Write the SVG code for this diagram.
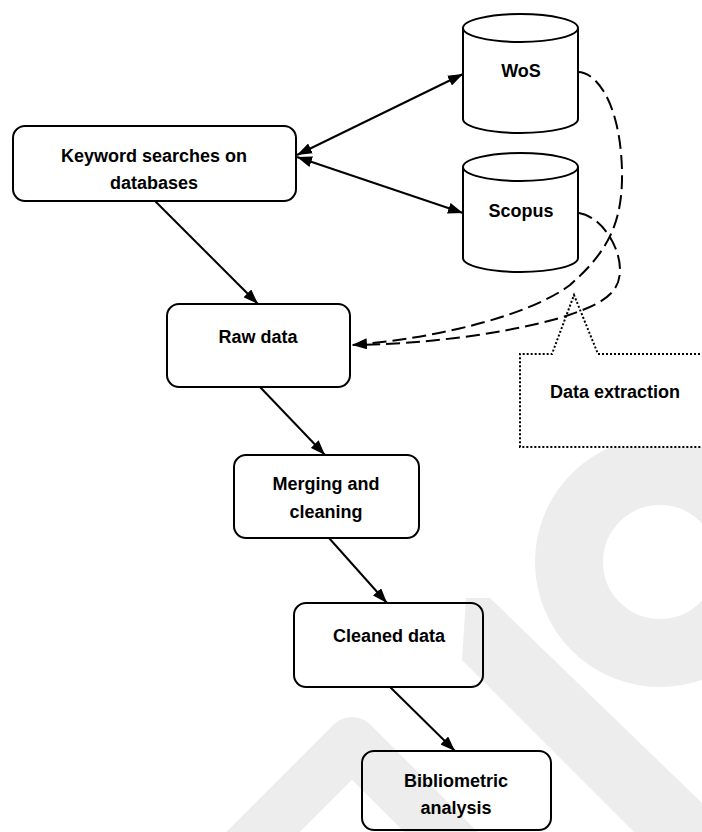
<svg xmlns="http://www.w3.org/2000/svg" width="702" height="832" viewBox="0 0 702 832">
  <style>
    .box { fill: none; stroke: #000; stroke-width: 2; }
    .cyl { fill: #fff; stroke: #000; stroke-width: 2; }
    .lbl { font-family: "Liberation Sans", Arial, sans-serif; font-weight: bold; font-size: 18px; fill: #000; text-anchor: middle; }
    .solid { fill: none; stroke: #000; stroke-width: 2; }
    .dash { fill: none; stroke: #000; stroke-width: 2; stroke-dasharray: 14 6; }
    .dot { fill: #fff; stroke: #000; stroke-width: 2; stroke-dasharray: 2 2; }
    .wm { fill: #ededed; }
  </style>
  <defs>
    <marker id="arr" markerUnits="userSpaceOnUse" markerWidth="15" markerHeight="11" refX="15" refY="5.5" orient="auto-start-reverse">
      <path d="M0,0 L15,5.5 L0,11 Z" fill="#000"/>
    </marker>
  </defs>
  <rect width="702" height="832" fill="#fff"/>

  <g id="watermark">
    <circle cx="660" cy="562" r="91" fill="none" stroke="#ededed" stroke-width="68"/>
    <polygon class="wm" points="466,598 490,598 702,803 702,832 634,832 462,660"/>
    <path d="M190,905 L352,743 L520,911" fill="none" stroke="#ededed" stroke-width="52" stroke-linejoin="round"/>
  </g>

  <g id="data-extraction">
    <path class="dot" d="M720,354 L598,354 L574,295 L552,354 L520,354 L520,447 L720,447"/>
    <text class="lbl" x="615" y="398">Data extraction</text>
  </g>

  <g id="keyword-searches">
    <rect class="box" x="13" y="126" width="283" height="75" rx="12"/>
    <text class="lbl" x="154" y="162">Keyword searches on</text>
    <text class="lbl" x="154" y="189">databases</text>
  </g>

  <g id="wos">
    <path class="cyl" d="M463,28 L463,119 A57.5,14 0 0 0 578,119 L578,28 A57.5,14 0 0 0 463,28 Z"/>
    <path class="cyl" d="M463,28 A57.5,14 0 0 0 578,28"/>
    <text class="lbl" x="521" y="77">WoS</text>
  </g>

  <g id="scopus">
    <path class="cyl" d="M463,167 L463,258 A57.5,14 0 0 0 578,258 L578,167 A57.5,14 0 0 0 463,167 Z"/>
    <path class="cyl" d="M463,167 A57.5,14 0 0 0 578,167"/>
    <text class="lbl" x="521" y="217">Scopus</text>
  </g>

  <g id="raw-data">
    <rect class="box" x="167" y="304" width="183" height="83" rx="12"/>
    <text class="lbl" x="258" y="343">Raw data</text>
  </g>

  <g id="merging-cleaning">
    <rect class="box" x="234" y="455" width="185" height="83" rx="12"/>
    <text class="lbl" x="326" y="490">Merging and</text>
    <text class="lbl" x="326" y="518">cleaning</text>
  </g>

  <g id="cleaned-data">
    <rect class="box" x="294" y="603" width="189" height="84" rx="12"/>
    <text class="lbl" x="389" y="642">Cleaned data</text>
  </g>

  <g id="bibliometric-analysis">
    <rect class="box" x="362" y="751" width="189" height="79" rx="12"/>
    <text class="lbl" x="456" y="787">Bibliometric</text>
    <text class="lbl" x="456" y="814">analysis</text>
  </g>

  <g id="connectors">
    <line class="solid" x1="297" y1="155" x2="463" y2="74" marker-start="url(#arr)" marker-end="url(#arr)"/>
    <line class="solid" x1="297" y1="157" x2="463" y2="213" marker-start="url(#arr)" marker-end="url(#arr)"/>
    <line class="solid" x1="155" y1="201" x2="258" y2="304" marker-end="url(#arr)"/>
    <line class="solid" x1="260" y1="387" x2="325" y2="455" marker-end="url(#arr)"/>
    <line class="solid" x1="329" y1="538" x2="387" y2="603" marker-end="url(#arr)"/>
    <line class="solid" x1="390" y1="687" x2="455" y2="751" marker-end="url(#arr)"/>
    <path class="dash" d="M578,72 C595,72 620,100 622,170 C623,220 610,250 570,285 C530,315 440,338 352,345" marker-end="url(#arr)"/>
    <path class="dash" d="M579,213 C600,216 620,245 620,270 C620,295 600,305 560,318 C500,335 420,344 356,345"/>
  </g>
</svg>
